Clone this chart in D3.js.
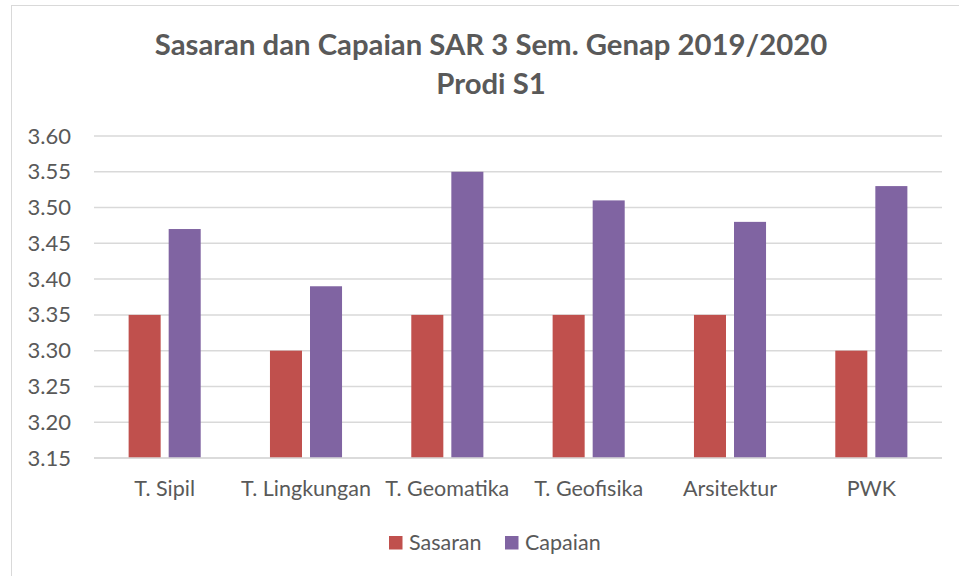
<!DOCTYPE html>
<html>
<head>
<meta charset="utf-8">
<script src="https://cdn.jsdelivr.net/npm/d3@7"></script>
<style>
	html, body { margin: 0; padding: 0; background: #fff; }
	svg { display: block; font-family: Lato, "Open Sans", sans-serif; }
</style>
</head>
<body>
<svg id="chart" width="959" height="576"></svg>
<script>
'use strict';

// chart data
var categories = ['T. Sipil', 'T. Lingkungan', 'T. Geomatika', 'T. Geofisika', 'Arsitektur', 'PWK'];
var seriesNames = ['Sasaran', 'Capaian'];
var sasaran = [3.35, 3.30, 3.35, 3.35, 3.35, 3.30];
var capaian = [3.47, 3.39, 3.55, 3.51, 3.48, 3.53];
var yTicks = [3.15, 3.20, 3.25, 3.30, 3.35, 3.40, 3.45, 3.50, 3.55, 3.60];
var titleLines = ['Sasaran dan Capaian SAR 3 Sem. Genap 2019/2020', 'Prodi S1'];

var colors = { Sasaran: '#c0504d', Capaian: '#8064a2' };
var textColor = '#595959';
var gridColor = '#d9d9d9';

var svg = d3.select('#chart');
var plot = { left: 94, right: 942, top: 136, bottom: 458 };

// outer chart border
svg.append('rect')
	.attr('x', 11.5)
	.attr('y', 5.5)
	.attr('width', 1000)
	.attr('height', 600)
	.attr('fill', '#fff')
	.attr('stroke', gridColor)
	.attr('stroke-width', 1);

// title
svg.append('g')
	.selectAll('text')
	.data(titleLines)
	.enter()
	.append('text')
	.attr('x', 491)
	.attr('y', function(d, i) { return 55 + i * 39; })
	.attr('text-anchor', 'middle')
	.attr('fill', textColor)
	.attr('font-size', 29.3)
	.attr('font-weight', 'bold')
	.text(function(d) { return d; });

var y = d3.scaleLinear()
	.domain([3.15, 3.60])
	.range([plot.bottom, plot.top]);

var x0 = d3.scaleBand()
	.domain(categories)
	.range([plot.left, plot.right])
	.paddingInner(0.49)
	.paddingOuter(0.245);

var x1 = d3.scaleBand()
	.domain(seriesNames)
	.range([0, x0.bandwidth()])
	.paddingInner(0.2);

// gridlines
svg.append('g')
	.selectAll('line')
	.data(yTicks)
	.enter()
	.append('line')
	.attr('x1', plot.left)
	.attr('x2', plot.right)
	.attr('y1', function(d) { return y(d); })
	.attr('y2', function(d) { return y(d); })
	.attr('stroke', gridColor)
	.attr('stroke-width', 1.5);

// y axis labels
var yAxis = svg.append('g')
	.attr('transform', 'translate(' + plot.left + ',0)')
	.call(d3.axisLeft(y).tickValues(yTicks).tickFormat(d3.format('.2f')).tickSize(0).tickPadding(23));
yAxis.select('.domain').remove();
yAxis.selectAll('text')
	.attr('fill', textColor)
	.attr('font-size', 22)
	.attr('font-family', 'Lato, sans-serif');

// bars
var rows = categories.map(function(c, i) {
	return { cat: c, values: [
		{ name: 'Sasaran', value: sasaran[i] },
		{ name: 'Capaian', value: capaian[i] }
	] };
});

var groups = svg.append('g')
	.selectAll('g')
	.data(rows)
	.enter()
	.append('g')
	.attr('transform', function(d) { return 'translate(' + x0(d.cat) + ',0)'; });

groups.selectAll('rect')
	.data(function(d) { return d.values; })
	.enter()
	.append('rect')
	.attr('x', function(d) { return x1(d.name); })
	.attr('width', x1.bandwidth())
	.attr('y', function(d) { return y(d.value); })
	.attr('height', function(d) { return y(3.15) - y(d.value); })
	.attr('fill', function(d) { return colors[d.name]; });

// x axis line + labels
svg.append('line')
	.attr('x1', plot.left)
	.attr('x2', plot.right)
	.attr('y1', y(3.15))
	.attr('y2', y(3.15))
	.attr('stroke', gridColor)
	.attr('stroke-width', 1.5);

var xAxis = svg.append('g')
	.attr('transform', 'translate(0,' + plot.bottom + ')')
	.call(d3.axisBottom(x0).tickSize(0).tickPadding(23));
xAxis.select('.domain').remove();
xAxis.selectAll('text')
	.attr('fill', textColor)
	.attr('font-size', 21.5)
	.attr('font-family', 'Lato, sans-serif');

// legend
var legendX = [389, 505];
var legend = svg.append('g')
	.selectAll('g')
	.data(seriesNames)
	.enter()
	.append('g')
	.attr('transform', function(d, i) { return 'translate(' + legendX[i] + ',536)'; });

legend.append('rect')
	.attr('width', 13.5)
	.attr('height', 13.5)
	.attr('fill', function(d) { return colors[d]; });

legend.append('text')
	.attr('x', 20)
	.attr('y', 13.5)
	.attr('fill', textColor)
	.attr('font-size', 21.5)
	.text(function(d) { return d; });
</script>
</body>
</html>
